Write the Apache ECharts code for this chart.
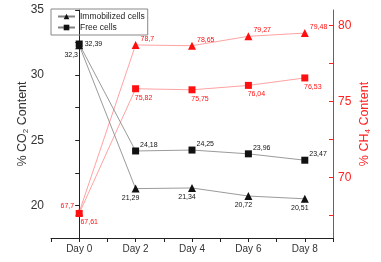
<!DOCTYPE html>
<html>
<head>
<meta charset="utf-8">
<script src="https://cdn.jsdelivr.net/npm/echarts@6/dist/echarts.min.js"></script>
<style>
  html, body { margin: 0; padding: 0; background: #fff; }
  #chart { width: 381px; height: 262px; }
</style>
</head>
<body>
<div id="chart"></div>
<script>
const days = [0, 2, 4, 6, 8];
const immobCO2 = [32.3, 21.29, 21.34, 20.72, 20.51];
const freeCO2 = [32.39, 24.18, 24.25, 23.96, 23.47];
const immobCH4 = [67.7, 78.7, 78.65, 79.27, 79.48];
const freeCH4 = [67.61, 75.82, 75.75, 76.04, 76.53];
const leftLabels = [20, 25, 30, 35];
const leftTicks = [20, 22.5, 25, 27.5, 30, 32.5, 35];
const rightLabels = [70, 75, 80];
const rightTicks = [67.5, 70, 72.5, 75, 77.5, 80];

const FONT = 'Liberation Sans';
const fmt = v => String(v).replace('.', ',');

// build point list, with a different label spot for the first point
function points(vals, first) {
  return vals.map((v, i) => {
    const p = { value: [days[i], v] };
    if (i === 0 && first) p.label = first;
    return p;
  });
}

function lineSeries(name, vals, yIdx, symbol, size, color, lineColor, lbl, first) {
  return {
    name: name,
    type: 'line',
    yAxisIndex: yIdx,
    symbol: symbol,
    symbolSize: size,
    itemStyle: { color: color },
    lineStyle: { color: lineColor, width: 0.8 },
    emphasis: { disabled: true },
    label: Object.assign({
      show: true,
      fontFamily: FONT,
      fontSize: 7,
      color: color,
      formatter: p => fmt(p.value[1])
    }, lbl),
    data: points(vals, first),
    z: yIdx === 0 ? 3 : 2
  };
}

const chart = echarts.init(document.getElementById('chart'), null, { renderer: 'canvas' });

chart.setOption({
  animation: false,
  grid: { left: 51, right: 48, top: 10, bottom: 24 },
  legend: {
    data: ['Immobilized cells', 'Free cells'],
    orient: 'vertical',
    left: 51,
    top: 9,
    itemWidth: 17,
    itemHeight: 7,
    itemGap: 2,
    padding: [3, 3, 3, 6],
    borderColor: '#888',
    borderWidth: 1,
    textStyle: { fontFamily: FONT, fontSize: 8.5, color: '#222' }
  },
  xAxis: {
    type: 'value',
    min: -1,
    max: 9,
    interval: 1,
    splitLine: { show: false },
    axisLine: { lineStyle: { color: '#222', width: 1 } },
    axisTick: { length: 4, lineStyle: { color: '#222' } },
    axisLabel: {
      fontFamily: FONT, fontSize: 10, color: '#333', margin: 6,
      formatter: v => (days.indexOf(v) >= 0 ? 'Day ' + v : '')
    }
  },
  yAxis: [{
    type: 'value',
    min: 17.5,
    max: 35,
    position: 'left',
    splitLine: { show: false },
    axisLine: { show: true, lineStyle: { color: '#222', width: 1 } },
    axisTick: { show: true, length: 4, customValues: leftTicks, lineStyle: { color: '#222' } },
    axisLabel: { customValues: leftLabels, fontFamily: FONT, fontSize: 12, color: '#333', margin: 7 },
    name: '% CO{sub|2} Content',
    nameLocation: 'middle',
    nameRotate: 90,
    nameGap: 21,
    nameMoveOverlap: false,
    nameTextStyle: {
      fontFamily: FONT, fontSize: 12.5, color: '#333',
      rich: { sub: { fontFamily: FONT, fontSize: 8, color: '#333', padding: [7, 0, 0, 0] } }
    }
  }, {
    type: 'value',
    min: 66,
    max: 81,
    position: 'right',
    splitLine: { show: false },
    axisLine: { show: true, lineStyle: { color: '#ff2020', width: 1 } },
    axisTick: { show: true, inside: true, length: 4, customValues: rightTicks, lineStyle: { color: '#ff2020' } },
    axisLabel: { customValues: rightLabels, fontFamily: FONT, fontSize: 12, color: '#ff2020', margin: 5 },
    name: '% CH{sub|4} Content',
    nameLocation: 'middle',
    nameRotate: 90,
    nameGap: 24,
    nameMoveOverlap: false,
    nameTextStyle: {
      fontFamily: FONT, fontSize: 12.5, color: '#ff2020',
      rich: { sub: { fontFamily: FONT, fontSize: 8, color: '#ff2020', padding: [7, 0, 0, 0] } }
    }
  }],
  series: [
    lineSeries('Immobilized cells', immobCO2, 0, 'triangle', 8, '#111', '#808080',
      { position: 'bottom', distance: 2, offset: [-5, 0] },
      { position: 'bottom', distance: 2, offset: [-8, 0] }),
    lineSeries('Free cells', freeCO2, 0, 'rect', 7, '#111', '#808080',
      { position: 'right', distance: 1, offset: [0, -6] },
      { position: 'right', distance: 2, offset: [0, 0] }),
    lineSeries('Immobilized CH4', immobCH4, 1, 'triangle', 8, '#ff1010', '#ff8a8a',
      { position: 'right', distance: 1, offset: [0, -6] },
      { position: 'left', distance: 1, offset: [0, -6] }),
    lineSeries('Free CH4', freeCH4, 1, 'rect', 7, '#ff1010', '#ff8a8a',
      { position: 'bottom', distance: 2, offset: [8, 0] },
      { position: 'bottom', distance: 2, offset: [10, 0] })
  ]
});
</script>
</body>
</html>
